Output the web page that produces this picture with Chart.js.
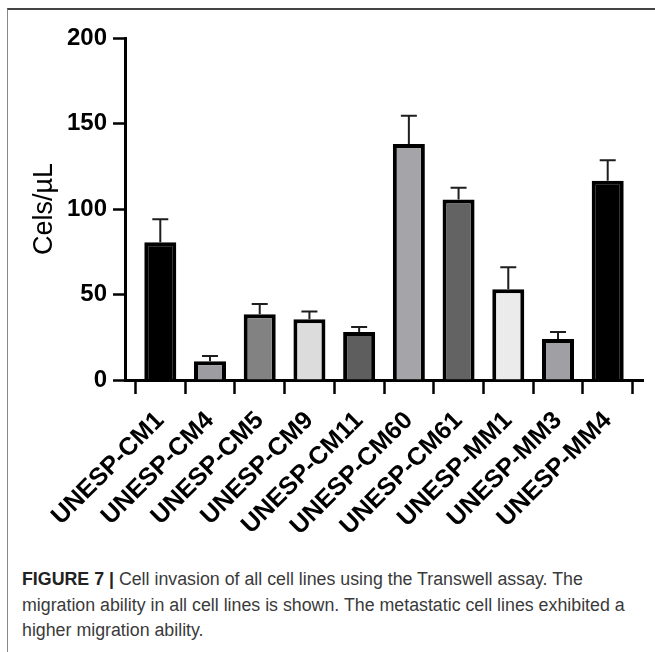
<!DOCTYPE html>
<html>
<head>
<meta charset="utf-8">
<script src="https://cdn.jsdelivr.net/npm/chart.js@4"></script>
<style>
    body { margin: 0; background: #fff; }
    #page { position: relative; width: 655px; height: 652px; overflow: hidden; }
    #frame { position: absolute; left: 7px; top: 8px; width: 660px; height: 660px;
             border-top: 2px solid #444; border-left: 1.5px solid #888; }
    #chart { position: absolute; left: 0; top: 0; }
    #caption { position: absolute; left: 22px; top: 567px; white-space: nowrap;
               font-family: "Liberation Sans", sans-serif;
               font-size: 18px; line-height: 25.5px; color: #3a3a3a;
               transform: scaleX(0.988); transform-origin: left top; }
    #caption b { color: #222; }
</style>
</head>
<body>
<div id="page">
    <div id="frame"></div>
    <canvas id="chart" width="655" height="540"></canvas>
    <div id="caption"><b>FIGURE 7 |</b> Cell invasion of all cell lines using the Transwell assay. The<br>migration ability in all cell lines is shown. The metastatic cell lines exhibited a<br>higher migration ability.</div>
</div>
<script>
// cell lines on the x axis
const cellLines = ['UNESP-CM1', 'UNESP-CM4', 'UNESP-CM5', 'UNESP-CM9', 'UNESP-CM11',
                   'UNESP-CM60', 'UNESP-CM61', 'UNESP-MM1', 'UNESP-MM3', 'UNESP-MM4']
// mean cells/uL and the upward error (SEM)
const cellMeans = [80.5, 11, 38.5, 35.5, 28, 138, 105.5, 53, 24, 116.5]
const cellSem = [13.5, 3, 6, 4.5, 3, 16.5, 7, 13, 4, 12]
const barColors = ['#000000', '#9c9ca1', '#828282', '#dcdcdc', '#5e5e5e',
                   '#a5a5a9', '#636363', '#ebebeb', '#a0a0a4', '#000000']
const yTicks = [0, 50, 100, 150, 200]

const errorBars = {
    id: 'errorBars',
    afterDatasetsDraw(chart) {
        let ctx = chart.ctx
        let y = chart.scales.y
        let meta = chart.getDatasetMeta(0)
        ctx.save()
        ctx.strokeStyle = '#1e1e1e'
        ctx.lineWidth = 2
        meta.data.forEach((bar, i) => {
            let top = y.getPixelForValue(cellMeans[i] + cellSem[i])
            ctx.beginPath()
            ctx.moveTo(bar.x, bar.y)
            ctx.lineTo(bar.x, top)
            ctx.moveTo(bar.x - 8, top)
            ctx.lineTo(bar.x + 8, top)
            ctx.stroke()
        })
        ctx.restore()
    }
}

new Chart(document.getElementById('chart'), {
    type: 'bar',
    data: {
        datasets: [{
            data: cellMeans.map((v, i) => ({x: i, y: v})),
            backgroundColor: barColors,
            borderColor: '#000000',
            borderWidth: 4,
            barPercentage: 0.644,
            categoryPercentage: 1
        }]
    },
    options: {
        responsive: false,
        animation: false,
        devicePixelRatio: 1,
        layout: {
            padding: {left: 0, right: 12, top: 38, bottom: 0}
        },
        plugins: {
            legend: { display: false },
            tooltip: { enabled: false }
        },
        scales: {
            x: {
                type: 'linear',
                offset: false,
                min: -0.71,
                max: 9.71,
                z: 1,
                afterBuildTicks: s => { s.ticks = cellLines.map((c, i) => ({value: i})) },
                afterFit: s => { s.height = 160 },
                grid: {
                    drawOnChartArea: false,
                    tickLength: 14,
                    tickWidth: 2.5,
                    color: '#000000'
                },
                border: { color: '#000000', width: 3 },
                ticks: {
                    autoSkip: false,
                    minRotation: 45,
                    maxRotation: 45,
                    padding: 12,
                    color: '#000000',
                    font: { family: 'Liberation Sans', size: 25, weight: 'bold' },
                    callback: v => cellLines[v]
                }
            },
            y: {
                min: 0,
                max: 200,
                afterBuildTicks: s => { s.ticks = yTicks.map(v => ({value: v})) },
                afterFit: s => { s.width = 125 },
                grid: {
                    drawOnChartArea: false,
                    tickLength: 12,
                    tickWidth: 2.5,
                    color: '#000000'
                },
                border: { color: '#000000', width: 3 },
                ticks: {
                    padding: 6,
                    color: '#000000',
                    font: { family: 'Liberation Sans', size: 24, weight: 'bold' }
                },
                title: {
                    display: true,
                    text: 'Cels/µL',
                    color: '#000000',
                    padding: { top: 28, bottom: 0 },
                    font: { family: 'Liberation Sans', size: 27 }
                }
            }
        }
    },
    plugins: [errorBars]
})
</script>
</body>
</html>
